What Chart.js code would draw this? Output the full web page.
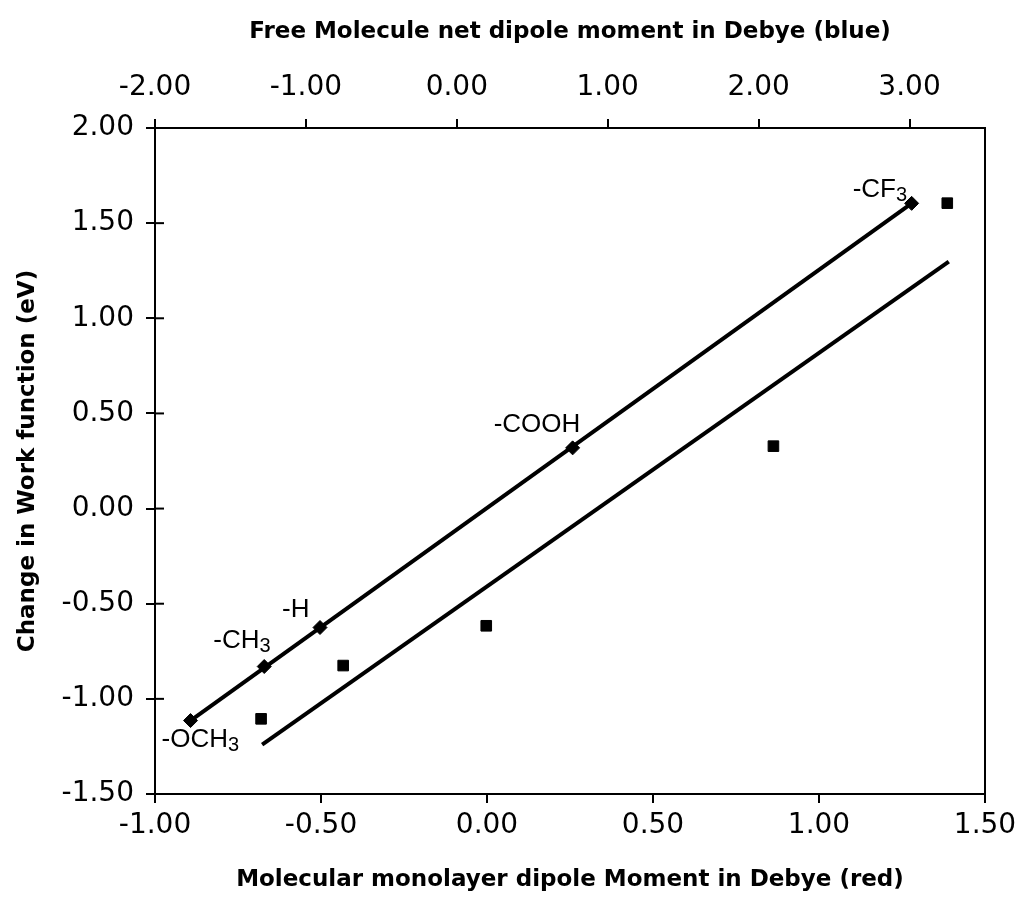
<!DOCTYPE html>
<html>
<head>
<meta charset="utf-8">
<script src="https://cdn.jsdelivr.net/npm/chart.js@4.4.1/dist/chart.umd.min.js"></script>
<style>
  html, body { margin: 0; padding: 0; background: #fff; }
  #wrap { width: 1018px; height: 913px; }
</style>
</head>
<body>
<div id="wrap"><canvas id="chart" width="1018" height="913"></canvas></div>
<script>
// substituent groups, label split into main text + subscript
var groupMain = ['-OCH', '-CH', '-H', '-COOH', '-CF'];
var groupSub = ['3', '3', '', '', '3'];

// monolayer dipole (red, bottom axis) vs work function change
var monoDipole = [-0.893, -0.671, -0.503, 0.258, 1.279];
var wfMono = [-1.114, -0.83, -0.625, 0.319, 1.604];

// free molecule dipole (blue, top axis) vs work function change
var freeDipole = [-1.297, -0.753, 0.195, 2.098, 3.25];
var wfFree = [-1.105, -0.825, -0.616, 0.328, 1.605];

// trend line end points
var monoFitX = [-0.893, 1.279];
var monoFitY = [-1.114, 1.604];
var freeFitX = [-1.29, 3.26];
var freeFitY = [-1.24, 1.298];

function pts(xs, ys) {
    var out = [];
    for (var i = 0; i < xs.length; i++) out.push({x: xs[i], y: ys[i]});
    return out;
}

var tickFont = {family: 'DejaVu Sans', size: 28};
var titleFont = {family: 'DejaVu Sans', size: 23, weight: 'bold'};

// label offsets from each diamond (px): left edge, baseline
var labelOffsets = [[-29, 26], [-51, -19], [-38, -11], [-79, -16], [-59, -6]];

var extras = {
    id: 'extras',
    afterDatasetsDraw: function(chart) {
        var ctx = chart.ctx;
        var area = chart.chartArea;
        ctx.save();
        // right frame line
        ctx.strokeStyle = '#000';
        ctx.lineWidth = 2;
        ctx.beginPath();
        ctx.moveTo(area.right, area.top);
        ctx.lineTo(area.right, area.bottom);
        ctx.stroke();
        // y ticks cross the axis
        var ys = chart.scales.y;
        ys.ticks.forEach(function(t) {
            var py = ys.getPixelForValue(t.value);
            ctx.beginPath();
            ctx.moveTo(area.left, py);
            ctx.lineTo(area.left + 9, py);
            ctx.stroke();
        });
        // group labels
        var meta = chart.getDatasetMeta(2);
        ctx.fillStyle = '#000';
        ctx.textBaseline = 'alphabetic';
        ctx.textAlign = 'left';
        for (var i = 0; i < meta.data.length; i++) {
            var p = meta.data[i];
            var lx = p.x + labelOffsets[i][0];
            var ly = p.y + labelOffsets[i][1];
            ctx.font = '26px "Liberation Sans"';
            ctx.fillText(groupMain[i], lx, ly);
            if (groupSub[i]) {
                var w = ctx.measureText(groupMain[i]).width;
                ctx.font = '20px "Liberation Sans"';
                ctx.fillText(groupSub[i], lx + w, ly + 4);
            }
        }
        ctx.restore();
    }
};

// keep the plot box fixed, let edge tick labels hang into the margin
function fitX(h) {
    return function(s) {
        s.height = h;
        s.paddingRight = 0;
        s.paddingLeft = 0;
    };
}

new Chart(document.getElementById('chart'), {
    type: 'scatter',
    data: {
        datasets: [
            {
                label: 'monolayer fit',
                type: 'line',
                data: pts(monoFitX, monoFitY),
                xAxisID: 'x',
                borderColor: '#000',
                borderWidth: 4,
                pointRadius: 0,
                fill: false
            },
            {
                label: 'free fit',
                type: 'line',
                data: pts(freeFitX, freeFitY),
                xAxisID: 'x2',
                borderColor: '#000',
                borderWidth: 4,
                pointRadius: 0,
                fill: false
            },
            {
                label: 'monolayer',
                data: pts(monoDipole, wfMono),
                xAxisID: 'x',
                pointStyle: 'rectRot',
                pointRadius: 7,
                backgroundColor: '#000',
                borderColor: '#000',
                borderWidth: 1
            },
            {
                label: 'free',
                data: pts(freeDipole, wfFree),
                xAxisID: 'x2',
                pointStyle: 'rect',
                pointRadius: 7.5,
                backgroundColor: '#000',
                borderColor: '#000',
                borderWidth: 1
            }
        ]
    },
    options: {
        responsive: false,
        animation: false,
        layout: {padding: {left: 0, right: 33, top: 0, bottom: 0}},
        plugins: {legend: {display: false}, tooltip: {enabled: false}},
        scales: {
            x: {
                type: 'linear',
                position: 'bottom',
                min: -1, max: 1.5,
                afterFit: fitX(119),
                ticks: {
                    stepSize: 0.5, color: '#000', font: tickFont, padding: 6,
                    maxRotation: 0,
                    callback: function(v) { return v.toFixed(2); }
                },
                grid: {drawOnChartArea: false, color: '#000', lineWidth: 2, tickLength: 9},
                border: {color: '#000', width: 2},
                title: {
                    display: true, color: '#000', font: titleFont,
                    text: 'Molecular monolayer dipole Moment in Debye (red)',
                    padding: {top: 0, bottom: 19}
                }
            },
            x2: {
                type: 'linear',
                position: 'top',
                min: -2, max: 3.5,
                afterFit: fitX(128),
                ticks: {
                    stepSize: 1, includeBounds: false, color: '#000', font: tickFont, padding: 14,
                    maxRotation: 0,
                    callback: function(v) { return v.toFixed(2); }
                },
                grid: {drawOnChartArea: false, color: '#000', lineWidth: 2, tickLength: 9},
                border: {color: '#000', width: 2},
                title: {
                    display: true, color: '#000', font: titleFont,
                    text: 'Free Molecule net dipole moment in Debye (blue)',
                    padding: {top: 18, bottom: 0}
                }
            },
            y: {
                type: 'linear',
                position: 'left',
                min: -1.5, max: 2,
                afterFit: function(s) { s.width = 155; },
                ticks: {
                    stepSize: 0.5, color: '#000', font: tickFont, padding: 12,
                    callback: function(v) { return v.toFixed(2); }
                },
                grid: {drawOnChartArea: false, color: '#000', lineWidth: 2, tickLength: 9},
                border: {color: '#000', width: 2},
                title: {
                    display: true, color: '#000', font: titleFont,
                    text: 'Change in Work function (eV)',
                    padding: {top: 14, bottom: 0}
                }
            }
        }
    },
    plugins: [extras]
});
</script>
</body>
</html>
